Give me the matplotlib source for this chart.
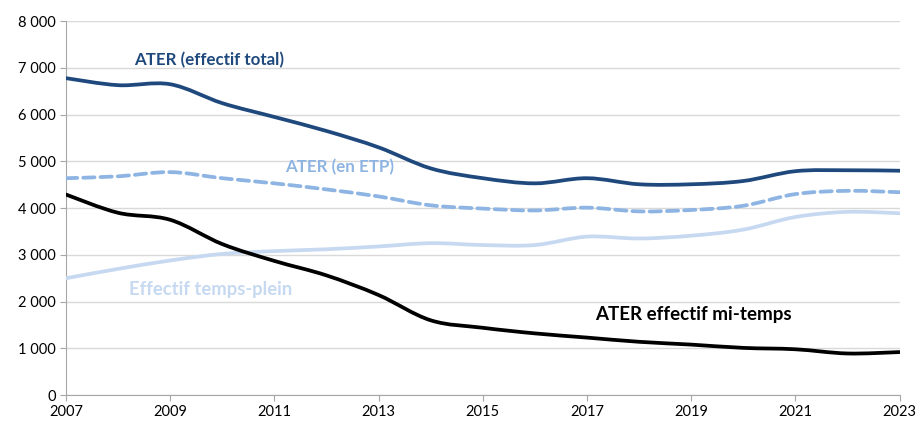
import numpy as np
import matplotlib.pyplot as plt
from matplotlib.path import Path
from matplotlib.patches import PathPatch
from matplotlib.ticker import FuncFormatter

plt.rcParams['font.family'] = ['Lato', 'DejaVu Sans']

years = list(range(2007, 2024))
ater_total = [6780, 6630, 6650, 6245, 5950, 5650, 5300, 4850, 4640, 4530,
              4640, 4510, 4510, 4580, 4790, 4810, 4800]
ater_etp = [4640, 4680, 4770, 4640, 4530, 4400, 4250, 4060, 3990, 3950,
            4010, 3930, 3960, 4050, 4300, 4370, 4340]
temps_plein = [2500, 2700, 2880, 3020, 3080, 3120, 3180, 3250, 3210, 3210,
               3390, 3350, 3410, 3540, 3810, 3920, 3890]
mi_temps = [4290, 3900, 3750, 3230, 2870, 2560, 2140, 1600, 1440, 1320,
            1230, 1140, 1080, 1010, 980, 890, 920]


def smooth_path(x, y):
    """Excel-like smoothed line: Catmull-Rom segments as cubic Bezier."""
    x = np.asarray(x, float)
    y = np.asarray(y, float)
    pts = np.column_stack([x, y])
    verts = [pts[0]]
    codes = [Path.MOVETO]
    n = len(pts)
    for i in range(n - 1):
        p0 = pts[i - 1] if i > 0 else pts[i]
        p1 = pts[i]
        p2 = pts[i + 1]
        p3 = pts[i + 2] if i + 2 < n else pts[i + 1]
        c1 = p1 + (p2 - p0) / 6.0
        c2 = p2 - (p3 - p1) / 6.0
        verts += [c1, c2, p2]
        codes += [Path.CURVE4] * 3
    return Path(verts, codes)


fig, ax = plt.subplots(figsize=(9.17, 4.23), dpi=100)
fig.subplots_adjust(left=0.072, right=0.981, bottom=0.066, top=0.950)

series = [
    (temps_plein, '#C6D9F1', '-'),
    (ater_etp, '#8DB4E2', (0, (3, 1.6))),
    (ater_total, '#1F497D', '-'),
    (mi_temps, '#000000', '-'),
]
for vals, col, ls in series:
    patch = PathPatch(smooth_path(years, vals), facecolor='none', edgecolor=col,
                      lw=2.7, linestyle=ls, capstyle='round', joinstyle='round',
                      zorder=3)
    ax.add_patch(patch)

ax.set_xlim(2007, 2023)
ax.set_ylim(0, 8000)
ax.set_xticks(range(2007, 2024, 2))
ax.set_yticks(range(0, 8001, 1000))
ax.yaxis.set_major_formatter(FuncFormatter(lambda v, p: f"{int(v):,}".replace(",", " ")))
ax.grid(axis='y', color='#D9D9D9', lw=1)
ax.set_axisbelow(True)
for s in ['top', 'right']:
    ax.spines[s].set_visible(False)
for s in ['left', 'bottom']:
    ax.spines[s].set_color('#A6A6A6')
ax.tick_params(axis='both', colors='#A6A6A6', labelcolor='black', labelsize=10.5,
               length=4)
ax.tick_params(axis='x', pad=3)

ax.text(2008.3, 7165, "ATER (effectif total)", color='#1F497D', fontsize=12.2,
        fontweight='bold', va='center')
ax.text(2011.2, 4877, "ATER (en ETP)", color='#8DB4E2', fontsize=12.2,
        fontweight='bold', va='center')
ax.text(2008.2, 2267, "Effectif temps-plein", color='#C6D9F1', fontsize=13.3,
        fontweight='bold', va='center')
ax.text(2017.15, 1733, "ATER effectif mi-temps", color='black', fontsize=13.5,
        fontweight='bold', va='center')

fig.savefig("out.png", dpi=100)
